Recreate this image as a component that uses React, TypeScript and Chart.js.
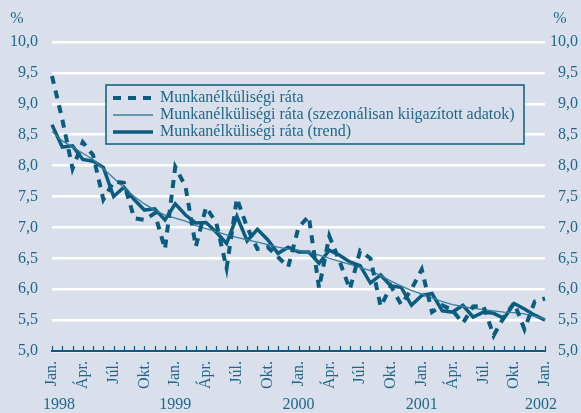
import React, { useEffect, useRef } from 'react';
import { Chart, registerables } from 'chart.js';

Chart.register(...registerables);

// ---------- data ----------
const years = ['1998', '1999', '2000', '2001', '2002'];
const monthNames = ['Jan.', 'Febr.', 'Márc.', 'Ápr.', 'Máj.', 'Jún.', 'Júl.', 'Aug.', 'Szept.', 'Okt.', 'Nov.', 'Dec.'];
const shownMonths = ['Jan.', 'Ápr.', 'Júl.', 'Okt.'];
// Jan 1998 ... Jan 2002 (49 months)
const categories: string[] = [];
years.forEach((y, yi) => {
  monthNames.forEach((m) => {
    if (yi < years.length - 1 || m === 'Jan.') categories.push(`${y} ${m}`);
  });
});

const seriesLabels = [
  'Munkanélküliségi ráta',
  'Munkanélküliségi ráta (szezonálisan kiigazított adatok)',
  'Munkanélküliségi ráta (trend)',
];

// dashed line
const unemploymentRate = [
  9.45, 8.75, 7.95, 8.38, 8.17, 7.45, 7.74, 7.72, 7.15, 7.12, 7.23, 6.65,
  7.98, 7.66, 6.69, 7.33, 7.07, 6.34, 7.47, 7.0, 6.65, 6.68, 6.52, 6.36,
  7.0, 7.18, 6.02, 6.86, 6.45, 6.0, 6.62, 6.5, 5.72, 6.05, 5.75, 6.0,
  6.32, 5.63, 5.74, 5.66, 5.45, 5.72, 5.73, 5.25, 5.55, 5.78, 5.35, 5.8,
  5.85,
];
// thin line
const seasonallyAdjusted = [
  8.55, 8.4, 8.3, 8.2, 8.1, 7.95, 7.8, 7.64, 7.5, 7.38, 7.28, 7.2,
  7.15, 7.1, 7.03, 6.98, 6.93, 6.88, 6.84, 6.8, 6.76, 6.72, 6.68, 6.65,
  6.63, 6.6, 6.55, 6.5, 6.45, 6.4, 6.35, 6.3, 6.22, 6.13, 6.05, 5.98,
  5.92, 5.86, 5.8, 5.75, 5.72, 5.69, 5.67, 5.65, 5.63, 5.62, 5.6, 5.56,
  5.52,
];
// thick line
const trend = [
  8.66, 8.3, 8.32, 8.1, 8.07, 7.97, 7.5, 7.65, 7.45, 7.28, 7.3, 7.12,
  7.38, 7.2, 7.07, 7.08, 6.92, 6.74, 7.18, 6.78, 6.97, 6.8, 6.58, 6.68,
  6.6, 6.6, 6.42, 6.63, 6.55, 6.44, 6.38, 6.1, 6.23, 6.05, 6.03, 5.74,
  5.9, 5.93, 5.65, 5.63, 5.74, 5.55, 5.63, 5.61, 5.53, 5.77, 5.68, 5.58,
  5.5,
];

const yMin = 5;
const yMax = 10;
const yStep = 0.5;

// ---------- styles ----------
const BG = '#d9e0eb';
const TEAL = '#0b5c7e';
const THIN = '#3a7f9f';
const TEXT = '#1f678a';
const FONT = "'Liberation Serif', 'Times New Roman', serif";

const fmt = (v: number) => v.toFixed(1).replace('.', ',');

const decorPlugin = {
  id: 'decor',
  afterDatasetsDraw(chart: any) {
    const ctx = chart.ctx;
    const xs = chart.scales.x;
    ctx.save();
    // upward tick marks on x axis
    ctx.strokeStyle = TEAL;
    ctx.lineWidth = 1.2;
    for (let i = 0; i < categories.length; i++) {
      const px = Math.round(xs.getPixelForValue(i)) + 0.5;
      ctx.beginPath();
      ctx.moveTo(px, xs.top);
      ctx.lineTo(px, xs.top - 5);
      ctx.stroke();
    }
    // year labels
    ctx.fillStyle = TEXT;
    ctx.font = `16px ${FONT}`;
    ctx.textAlign = 'center';
    ctx.textBaseline = 'middle';
    years.forEach((y, yi) => {
      let px = xs.getPixelForValue(yi * 12);
      if (yi === 0) px += 7;
      if (yi === years.length - 1) px -= 4;
      ctx.fillText(y, px, 405);
    });
    // % labels
    ctx.fillText('%', 17, 19);
    ctx.fillText('%', 560, 19);

    // legend box
    const bx = 106, by = 85, bw = 418, bh = 59;
    ctx.fillStyle = BG;
    ctx.fillRect(bx, by, bw, bh);
    ctx.strokeStyle = TEAL;
    ctx.lineWidth = 1.5;
    ctx.strokeRect(bx, by, bw, bh);
    const rows = [98, 115, 132];
    chart.data.datasets.forEach((ds: any, i: number) => {
      const ry = rows[i];
      ctx.beginPath();
      ctx.strokeStyle = ds.borderColor;
      ctx.lineWidth = ds.borderWidth;
      ctx.setLineDash(ds.borderDash || []);
      ctx.moveTo(113, ry);
      ctx.lineTo(153, ry);
      ctx.stroke();
      ctx.setLineDash([]);
      ctx.fillStyle = TEXT;
      ctx.textAlign = 'left';
      ctx.fillText(ds.label, 160, ry);
    });
    ctx.restore();
  },
};

export default function App() {
  const ref = useRef<HTMLCanvasElement>(null);
  useEffect(() => {
    document.body.style.margin = '0';
    document.body.style.background = BG;
    const chart = new Chart(ref.current!, {
      type: 'line',
      data: {
        labels: categories,
        datasets: [
          {
            label: seriesLabels[0],
            data: unemploymentRate,
            borderColor: TEAL,
            borderWidth: 4,
            borderDash: [8, 7],
            pointRadius: 0,
            tension: 0,
            fill: false,
          },
          {
            label: seriesLabels[1],
            data: seasonallyAdjusted,
            borderColor: THIN,
            borderWidth: 1.3,
            pointRadius: 0,
            tension: 0,
            fill: false,
          },
          {
            label: seriesLabels[2],
            data: trend,
            borderColor: TEAL,
            borderWidth: 3.5,
            pointRadius: 0,
            tension: 0,
            fill: false,
          },
        ],
      },
      options: {
        responsive: false,
        animation: false,
        layout: { padding: { top: 42, left: 0, right: 3, bottom: 0 } },
        plugins: { legend: { display: false }, tooltip: { enabled: false } },
        scales: {
          x: {
            type: 'category',
            grid: { drawOnChartArea: false, drawTicks: false },
            border: { display: true, color: TEAL, width: 2 },
            ticks: {
              autoSkip: false,
              minRotation: 90,
              maxRotation: 90,
              padding: 10,
              color: TEXT,
              font: { family: FONT, size: 16 },
              callback: (_v: any, i: number) => (i % 3 === 0 ? shownMonths[(i / 3) % 4] : ''),
            },
            afterFit: (s: any) => {
              s.height = 62;
            },
          },
          y: {
            position: 'left',
            min: yMin,
            max: yMax,
            grid: { color: '#ffffff', lineWidth: 2.5, drawTicks: false },
            border: { display: false },
            ticks: {
              stepSize: yStep,
              padding: 14,
              color: TEXT,
              font: { family: FONT, size: 16 },
              callback: (v: any) => fmt(Number(v)),
            },
            afterFit: (s: any) => {
              s.width = 52;
            },
          },
          y2: {
            position: 'right',
            min: yMin,
            max: yMax,
            grid: { display: false, drawTicks: false },
            border: { display: false },
            ticks: {
              stepSize: yStep,
              padding: 4,
              crossAlign: 'far',
              color: TEXT,
              font: { family: FONT, size: 16 },
              callback: (v: any) => fmt(Number(v)),
            },
            afterFit: (s: any) => {
              s.width = 33;
            },
          },
        },
      },
      plugins: [decorPlugin],
    });
    return () => chart.destroy();
  }, []);
  return (
    <div style={{ position: 'fixed', left: 0, top: 0, width: 581, height: 413, background: BG }}>
      <canvas ref={ref} width={581} height={413} />
    </div>
  );
}
